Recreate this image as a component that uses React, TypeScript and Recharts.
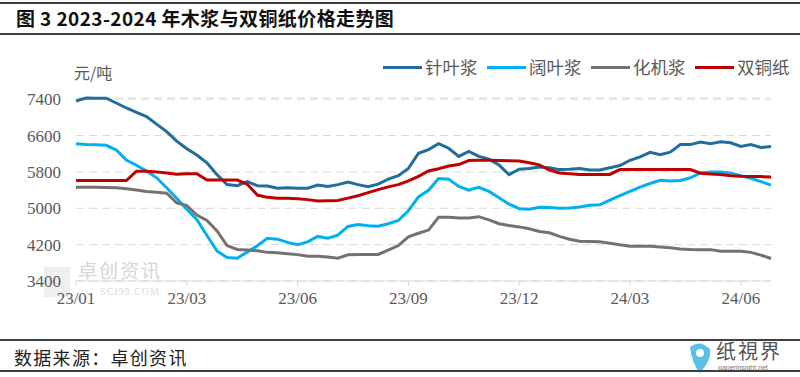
import React from "react"
import { LineChart, Line, XAxis, YAxis, CartesianGrid } from "recharts"

// x positions are sample indexes; a label every 11 samples
const tickLabels = ["23/01", "23/03", "23/06", "23/09", "23/12", "24/03", "24/06"]
const tickStep = 11
const yTicks = [3400, 4200, 5000, 5800, 6600, 7400]

// 针叶浆
const softwoodPulp = [
  7360, 7425, 7420, 7420, 7315, 7205, 7110, 7015, 6850, 6685,
  6475, 6310, 6170, 6000, 5740, 5520, 5495, 5585, 5495, 5490,
  5440, 5450, 5440, 5440, 5510, 5480, 5520, 5575, 5520, 5475,
  5530, 5640, 5715, 5875, 6210, 6290, 6420, 6320, 6140, 6250,
  6140, 6080, 5950, 5740, 5860, 5875, 5905, 5890, 5850, 5860,
  5875, 5840, 5840, 5890, 5940, 6055, 6130, 6230, 6180, 6235,
  6400, 6400, 6455, 6420, 6460, 6440, 6360, 6400, 6335, 6360,
]

// 阔叶浆
const hardwoodPulp = [
  6420, 6400, 6396, 6385, 6280, 6060, 5945, 5820, 5670, 5450,
  5220, 4980, 4750, 4400, 4060, 3915, 3900, 4035, 4175, 4340,
  4320, 4250, 4200, 4260, 4380, 4340, 4410, 4600, 4640, 4615,
  4605, 4660, 4730, 4945, 5250, 5395, 5655, 5640, 5480, 5400,
  5460, 5370, 5230, 5090, 4990, 4980, 5020, 5015, 5000, 5005,
  5030, 5065, 5075, 5180, 5280, 5370, 5465, 5545, 5615, 5600,
  5612, 5670, 5775, 5800, 5800, 5770, 5715, 5660, 5585, 5510,
]

// 化机浆
const mechanicalPulp = [
  5460, 5460, 5460, 5457, 5450, 5430, 5400, 5370, 5350, 5330,
  5120, 5060, 4850, 4730, 4500, 4180, 4095, 4080, 4065, 4030,
  4020, 4000, 3980, 3945, 3945, 3930, 3900, 3975, 3985, 3985,
  3985, 4080, 4180, 4370, 4450, 4520, 4800, 4800, 4785, 4785,
  4815, 4745, 4660, 4620, 4590, 4550, 4490, 4460, 4380, 4320,
  4275, 4270, 4262, 4230, 4195, 4165, 4165, 4165, 4150, 4130,
  4105, 4095, 4090, 4090, 4055, 4055, 4055, 4030, 3970, 3895,
]

// 双铜纸
const coatedPaper = [
  5610, 5610, 5610, 5610, 5610, 5610, 5815, 5813, 5800, 5775,
  5750, 5760, 5760, 5620, 5620, 5620, 5620, 5530, 5290, 5240,
  5222, 5220, 5210, 5190, 5160, 5163, 5170, 5223, 5275, 5343,
  5410, 5470, 5520, 5600, 5700, 5820, 5870, 5930, 5960, 6050,
  6055, 6055, 6050, 6045, 6037, 6000, 5955, 5840, 5775, 5760,
  5745, 5745, 5745, 5745, 5850, 5850, 5850, 5850, 5850, 5850,
  5850, 5850, 5770, 5752, 5740, 5717, 5703, 5700, 5696, 5690,
]

const series = [
  { key: "softwood", name: "针叶浆", color: "#1F6E9B", values: softwoodPulp },
  { key: "hardwood", name: "阔叶浆", color: "#00B0F0", values: hardwoodPulp },
  { key: "mechanical", name: "化机浆", color: "#767171", values: mechanicalPulp },
  { key: "coated", name: "双铜纸", color: "#C00000", values: coatedPaper },
]

const data = softwoodPulp.map((_, i) => {
  const row: Record<string, number> = { idx: i }
  series.forEach((s) => {
    row[s.key] = s.values[i]
  })
  return row
})

const xTicks = tickLabels.map((_, i) => i * tickStep)

const serif = "'Liberation Serif', serif"
const cjk = "'Noto Sans CJK SC', sans-serif"

export default function App() {
  return (
    <div
      style={{
        position: "absolute",
        left: 0,
        top: 0,
        width: 800,
        height: 377,
        background: "#fff",
        fontFamily: cjk,
        overflow: "hidden",
      }}
    >
      {/* title block */}
      <div style={{ position: "absolute", left: 0, top: 2, width: 800, height: 2, background: "#404040" }} />
      <div
        style={{
          position: "absolute",
          left: 16,
          top: 5,
          fontSize: 19,
          fontWeight: 700,
          color: "#111",
          lineHeight: "26px",
          letterSpacing: 0.4,
          whiteSpace: "nowrap",
        }}
      >
        图 3 2023-2024 年木浆与双铜纸价格走势图
      </div>
      <div style={{ position: "absolute", left: 0, top: 33, width: 800, height: 2, background: "#404040" }} />

      {/* watermark */}
      <div style={{ position: "absolute", left: 44, top: 267, width: 26, height: 30, background: "#efefef" }} />
      <div
        style={{
          position: "absolute",
          left: 78,
          top: 259,
          fontSize: 19,
          color: "#d6d6d6",
          lineHeight: "21px",
          letterSpacing: 2,
        }}
      >
        卓创资讯
      </div>
      <div
        style={{
          position: "absolute",
          left: 100,
          top: 287,
          fontSize: 10,
          lineHeight: "10px",
          color: "#dcdcdc",
          fontFamily: serif,
          letterSpacing: 1,
        }}
      >
        SCI99.COM
      </div>

      <div style={{ position: "absolute", left: 0, top: 0 }}>
        <LineChart width={800} height={377} data={data} margin={{ top: 98, right: 29, bottom: 66, left: 16 }}>
          <CartesianGrid vertical={false} stroke="#D9D9D9" strokeDasharray="8 5" />
          <XAxis
            dataKey="idx"
            type="number"
            domain={[0, data.length - 1]}
            ticks={xTicks}
            tickFormatter={(v: number) => tickLabels[Math.round(v / tickStep)]}
            axisLine={{ stroke: "#D9D9D9" }}
            tickLine={{ stroke: "#D9D9D9" }}
            tickSize={5}
            tickMargin={6}
            interval={0}
            height={30}
            tick={{ fill: "#595959", fontSize: 17, fontFamily: serif }}
          />
          <YAxis
            domain={[3400, 7400]}
            ticks={yTicks}
            width={60}
            axisLine={false}
            tickLine={false}
            tickSize={0}
            tickMargin={15}
            interval={0}
            tick={{ fill: "#595959", fontSize: 17, fontFamily: serif }}
          />
          {series.map((s) => (
            <Line
              key={s.key}
              dataKey={s.key}
              name={s.name}
              type="linear"
              stroke={s.color}
              strokeWidth={3}
              dot={false}
              isAnimationActive={false}
            />
          ))}
        </LineChart>
      </div>

      {/* unit */}
      <div style={{ position: "absolute", left: 74, top: 61, fontSize: 16, color: "#595959", lineHeight: "22px" }}>
        元/吨
      </div>

      {/* legend */}
      <div style={{ position: "absolute", left: 383, top: 56, display: "flex", alignItems: "center" }}>
        {series.map((s) => (
          <div key={s.key} style={{ display: "flex", alignItems: "center", marginRight: 9.5 }}>
            <div style={{ width: 39, height: 3, background: s.color }} />
            <span style={{ fontSize: 17.5, color: "#595959", marginLeft: 3, lineHeight: "22px" }}>{s.name}</span>
          </div>
        ))}
      </div>

      {/* footer */}
      <div style={{ position: "absolute", left: 0, top: 339, width: 800, height: 2, background: "#404040" }} />
      <div
        style={{
          position: "absolute",
          left: 14,
          top: 345,
          fontSize: 18,
          color: "#222",
          lineHeight: "24px",
          letterSpacing: 1.3,
        }}
      >
        数据来源：卓创资讯
      </div>
      <svg style={{ position: "absolute", left: 686, top: 341 }} width={28} height={34}>
        <path d="M4 6 Q14 -2 24 8 Q26 18 14 32 Q6 22 4 6 Z" fill="#5BC0E6" />
        <path d="M3 10 Q6 24 14 32 Q8 28 3 10 Z" fill="#8CC152" />
        <circle cx="14" cy="12" r="4" fill="#fff" />
      </svg>
      <div style={{ position: "absolute", left: 716, top: 340, fontSize: 20, color: "#555", lineHeight: "22px", letterSpacing: 2 }}>
        纸視界
      </div>
      <div style={{ position: "absolute", left: 718, top: 364, fontSize: 7, lineHeight: "7px", color: "#777", fontFamily: "Arial, sans-serif" }}>
        paperinsight.net
      </div>
      <div style={{ position: "absolute", left: 0, top: 370, width: 800, height: 2, background: "#404040" }} />
    </div>
  )
}
